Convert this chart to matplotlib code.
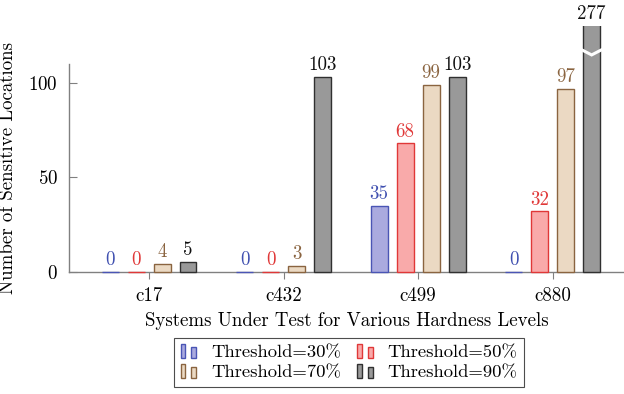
import matplotlib
matplotlib.use("Agg")
import matplotlib.pyplot as plt
import numpy as np
from matplotlib.patches import Rectangle
from matplotlib.legend_handler import HandlerBase

plt.rcParams['font.family'] = ['cmr10', 'DejaVu Serif']
plt.rcParams['axes.formatter.use_mathtext'] = True
plt.rcParams['mathtext.fontset'] = 'cm'

systems = ['c17', 'c432', 'c499', 'c880']
series_names = ['Threshold=30%', 'Threshold=50%', 'Threshold=70%', 'Threshold=90%']
t30 = [0, 0, 35, 0]
t50 = [0, 0, 68, 32]
t70 = [4, 3, 99, 97]
t90 = [5, 103, 103, 277]
series = [t30, t50, t70, t90]
y_ticks = [0, 50, 100]

fills = ['#aaaadf', '#f9aaaa', '#ebd9c3', '#999999']
edges = ['#4a55b5', '#e03838', '#8a6440', '#303030']
label_colors = ['#4050b0', '#e03838', '#8a6440', '#111111']

FS = 13.6
LEG_FS = 13.4

fig = plt.figure(figsize=(6.24, 3.94), dpi=100)
ax = fig.add_axes([69/624, 1 - 271.7/394, 1 - 69/624, (271.7 - 64)/394])

x = np.arange(len(systems))
width = 0.126
step = 0.193
y_top = 110
cap = 130  # bars taller than this are cut off above the axis

cap_rect = Rectangle((-1, -1), 10, cap + 1, transform=ax.transData)

for i, (vals, fc, ec, lc) in enumerate(zip(series, fills, edges, label_colors)):
    xs = x + (i - 1.5) * step
    bars = ax.bar(xs, vals, width=width, color=fc, edgecolor=ec, linewidth=1.0,
                  clip_on=False, zorder=3)
    for b, v, xx in zip(bars, vals, xs):
        if v > cap:
            b.set_clip_on(True)
            b.set_clip_path(cap_rect)
            # break marker across the truncated bar
            hw = width / 2 + 0.01
            ax.plot([xx - hw, xx, xx + hw], [117.5, 114.8, 117.5], color='white',
                    lw=2.2, clip_on=False, zorder=4, solid_joinstyle='miter')
        ytxt = min(v, cap)
        ax.annotate(str(v), (xx, ytxt), xytext=(0, 2), textcoords='offset points',
                    ha='center', va='bottom', color=lc, fontsize=FS,
                    annotation_clip=False)

ax.set_xlim(-0.595, 3.53)
ax.set_ylim(0, y_top)
ax.set_xticks(x)
ax.set_xticklabels(systems)
ax.set_yticks(y_ticks)
for s in ['top', 'right']:
    ax.spines[s].set_visible(False)
for s in ['left', 'bottom']:
    ax.spines[s].set_color('#808080')
    ax.spines[s].set_linewidth(1.0)
    ax.spines[s].set_zorder(2)
ax.tick_params(axis='y', direction='in', length=6, color='#808080', labelsize=FS, pad=8)
ax.tick_params(axis='x', direction='out', length=5, color='#808080', labelsize=FS, pad=6)

ax.set_ylabel('Number of Sensitive Locations', fontsize=FS, labelpad=8)
ax.set_xlabel('Systems Under Test for Various Hardness Levels', fontsize=FS, labelpad=5)


class TwoBarHandler(HandlerBase):
    def create_artists(self, legend, orig_handle, xdescent, ydescent,
                       width, height, fontsize, trans):
        fc = orig_handle.get_facecolor()
        ec = orig_handle.get_edgecolor()
        w = width * 0.26
        r1 = Rectangle((-xdescent + width * 0.02, -ydescent - height * 0.05), w, height * 1.1,
                       facecolor=fc, edgecolor=ec, lw=1.0, transform=trans)
        r2 = Rectangle((-xdescent + width * 0.62, -ydescent), w, height * 0.8,
                       facecolor=fc, edgecolor=ec, lw=1.0, transform=trans)
        return [r1, r2]


handles = [Rectangle((0, 0), 1, 1, facecolor=fc, edgecolor=ec)
           for fc, ec in zip(fills, edges)]
order = [0, 2, 1, 3]
leg = fig.legend([handles[k] for k in order], [series_names[k] for k in order],
                 handler_map={Rectangle: TwoBarHandler()},
                 loc='upper center', bbox_to_anchor=(349/624, 1 - 338/394),
                 ncol=2, fontsize=LEG_FS, frameon=True, fancybox=False,
                 edgecolor='#202020', handlelength=0.95, handletextpad=0.7,
                 columnspacing=0.86, borderpad=0.35, labelspacing=0.22,
                 borderaxespad=0)
leg.get_frame().set_linewidth(0.8)

fig.savefig('out.png', dpi=100)
